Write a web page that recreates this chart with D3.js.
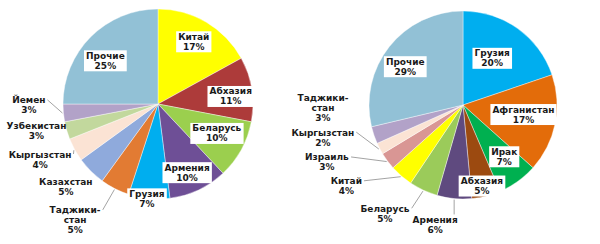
<!DOCTYPE html>
<html>
<head>
<meta charset="UTF-8">
<title>Pie charts</title>
<script src="https://d3js.org/d3.v7.min.js"></script>
<style>
    body { margin: 0; background: #fff; }
    text { font-family: "DejaVu Sans", Verdana, sans-serif; font-weight: bold; font-size: 9px; fill: #1a1a1a; }
</style>
</head>
<body>
<svg id="chart" width="600" height="244"></svg>
<script>
    // left chart
    const leftCategories = ["Китай", "Абхазия", "Беларусь", "Армения", "Грузия", "Таджикистан",
        "Казахстан", "Кыргызстан", "Узбекистан", "Йемен", "Прочие"];
    const leftValues = [17, 11, 10, 10, 7, 5, 5, 4, 3, 3, 25];
    const leftColors = ["#ffff00", "#ad3b3a", "#9bcf4e", "#6e4f96", "#00aeef", "#e27b33",
        "#8faadc", "#fbe3d4", "#c2d89d", "#b2a2c8", "#92c1d6"];

    // right chart
    const rightCategories = ["Грузия", "Афганистан", "Ирак", "Абхазия", "Армения", "Беларусь",
        "Китай", "Израиль", "Кыргызстан", "Таджикистан", "Прочие"];
    const rightValues = [20, 17, 7, 5, 6, 5, 4, 3, 2, 3, 29];
    const rightColors = ["#00aeef", "#e36c0a", "#00b050", "#9c4a10", "#5f4a7f", "#9bcb5a",
        "#ffff00", "#d99694", "#fbe3d4", "#b2a2c8", "#92c1d6"];

    const wrapped = {"Таджикистан": ["Таджики-", "стан"]};

    // label placement: [angle in degrees from 12 o'clock, radius factor, inside box, leader line]
    const leftLabelPos = [[29.7, 0.76, 1, 0], [83.7, 0.77, 1, 0], [116.2, 0.69, 1, 0], [156.9, 0.78, 1, 0],
        [186.7, 1.0, 1, 0], [215.6, 1.5, 0, 1], [228.3, 1.3, 0, 0], [245, 1.37, 0, 1],
        [257.5, 1.31, 0, 0], [269.6, 1.36, 0, 1], [309.7, 0.72, 1, 0]];
    const rightLabelPos = [[31.7, 0.59, 1, 0], [98.5, 0.65, 1, 0], [141.2, 0.70, 1, 0], [166.8, 0.88, 1, 0],
        [193.1, 1.31, 0, 1], [215.8, 1.42, 0, 1], [235.3, 1.51, 0, 1], [247.3, 1.57, 0, 1],
        [257.1, 1.53, 0, 1], [268.8, 1.49, 0, 0], [303.9, 0.74, 1, 0]];

    const svg = d3.select("#chart");

    function drawPie(cx, cy, r, categories, values, colors, labelPos) {
        const g = svg.append("g").attr("transform", `translate(${cx},${cy})`);
        const pie = d3.pie().sort(null).value(d => d)(values);
        const arc = d3.arc().innerRadius(0).outerRadius(r);

        g.selectAll("path.slice")
            .data(pie)
            .join("path")
            .attr("class", "slice")
            .attr("d", arc)
            .attr("fill", (d, i) => colors[i])
            .attr("stroke", "#fff")
            .attr("stroke-width", 0.4);

        const lineH = 10;
        pie.forEach((d, i) => {
            const pos = labelPos[i];
            const a = pos[0] * Math.PI / 180;
            const lx = Math.sin(a) * r * pos[1];
            const ly = -Math.cos(a) * r * pos[1];
            const lines = (wrapped[categories[i]] || [categories[i]]).concat([values[i] + "%"]);
            const top = ly - lines.length * lineH / 2;

            const lg = g.append("g");
            const box = lg.append("rect");
            const txt = lg.append("text")
                .attr("text-anchor", "middle");
            lines.forEach((t, k) => {
                txt.append("tspan")
                    .attr("x", lx)
                    .attr("y", top + k * lineH + 8.5)
                    .text(t);
            });
            const bb = txt.node().getBBox();
            if (pos[2]) {
                box.attr("x", bb.x - 2).attr("y", bb.y - 0.5)
                    .attr("width", bb.width + 4).attr("height", bb.height + 1)
                    .attr("fill", "#fff");
            } else {
                box.remove();
            }
            if (pos[3]) {
                const mid = (d.startAngle + d.endAngle) / 2;
                const ex = Math.sin(mid) * (r + 1);
                const ey = -Math.cos(mid) * (r + 1);
                let sx, sy;
                if (ex > bb.x + bb.width + 2) {
                    sx = bb.x + bb.width + 2;
                    sy = top + lineH / 2;
                } else {
                    sx = ex;
                    sy = bb.y - 1;
                }
                g.append("line")
                    .attr("x1", sx).attr("y1", sy)
                    .attr("x2", ex).attr("y2", ey)
                    .attr("stroke", "#8c8c8c")
                    .attr("stroke-width", 0.8);
            }
        });
    }

    drawPie(158, 104, 95, leftCategories, leftValues, leftColors, leftLabelPos);
    drawPie(463, 105, 94, rightCategories, rightValues, rightColors, rightLabelPos);
</script>
</body>
</html>
